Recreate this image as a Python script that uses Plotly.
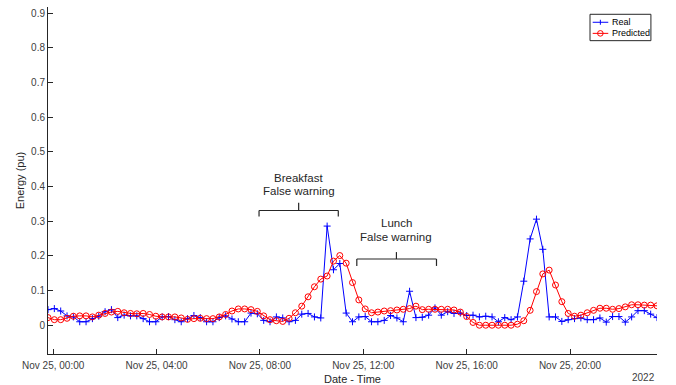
import pandas as pd
import plotly.graph_objects as go

# ---- data ----
t_start = "2022-11-24 23:48"
t_end = "2022-11-25 23:22"
n_points = 97

real = [0.045, 0.048, 0.041, 0.027, 0.024, 0.010, 0.010, 0.019, 0.026, 0.039,
        0.045, 0.022, 0.029, 0.027, 0.027, 0.019, 0.010, 0.010, 0.024, 0.025,
        0.016, 0.010, 0.019, 0.028, 0.022, 0.010, 0.010, 0.022, 0.027, 0.018,
        0.010, 0.010, 0.035, 0.033, 0.014, 0.010, 0.024, 0.021, 0.010, 0.014,
        0.032, 0.034, 0.024, 0.021, 0.286, 0.160, 0.178, 0.035, 0.010, 0.024,
        0.025, 0.010, 0.010, 0.014, 0.028, 0.021, 0.010, 0.098, 0.022, 0.023,
        0.029, 0.050, 0.029, 0.039, 0.034, 0.035, 0.028, 0.029, 0.024, 0.026,
        0.024, 0.010, 0.022, 0.016, 0.024, 0.127, 0.249, 0.306, 0.219, 0.024,
        0.024, 0.011, 0.016, 0.019, 0.021, 0.016, 0.016, 0.021, 0.009, 0.025,
        0.025, 0.009, 0.024, 0.042, 0.042, 0.032, 0.022]

predicted = [0.022, 0.016, 0.016, 0.020, 0.026, 0.027, 0.027, 0.024, 0.029, 0.034,
             0.038, 0.040, 0.036, 0.034, 0.033, 0.034, 0.031, 0.026, 0.024, 0.024,
             0.024, 0.021, 0.017, 0.019, 0.020, 0.019, 0.019, 0.024, 0.031, 0.041,
             0.047, 0.047, 0.045, 0.040, 0.027, 0.016, 0.013, 0.011, 0.020, 0.036,
             0.055, 0.082, 0.111, 0.133, 0.142, 0.185, 0.201, 0.179, 0.123, 0.073,
             0.047, 0.036, 0.038, 0.041, 0.042, 0.044, 0.046, 0.048, 0.055, 0.045,
             0.046, 0.046, 0.046, 0.046, 0.044, 0.038, 0.025, 0.008, 0.000, 0.000,
             0.000, 0.000, 0.000, 0.000, 0.003, 0.013, 0.043, 0.097, 0.148, 0.159,
             0.116, 0.068, 0.034, 0.026, 0.029, 0.036, 0.043, 0.049, 0.049, 0.046,
             0.048, 0.053, 0.059, 0.059, 0.058, 0.058, 0.056]

series_names = ["Real", "Predicted"]
series_colors = ["#0000ff", "#ff0000"]

tick_vals = ["2022-11-25 00:00", "2022-11-25 04:00", "2022-11-25 08:00",
             "2022-11-25 12:00", "2022-11-25 16:00", "2022-11-25 20:00"]

# annotation brackets: (start, end, centre, bar level, end level, tick top)
breakfast_bracket = ("2022-11-25 07:58", "2022-11-25 11:02", "2022-11-25 09:30", 0.331, 0.314, 0.353)
lunch_bracket = ("2022-11-25 11:45", "2022-11-25 14:50", "2022-11-25 13:17", 0.191, 0.171, 0.211)
breakfast_text = ["Breakfast", "False warning"]
lunch_text = ["Lunch", "False warning"]
breakfast_text_y = [0.426, 0.387]
lunch_text_y = [0.295, 0.255]

times = pd.date_range(t_start, t_end, periods=n_points)

FONT = "Liberation Sans, Arial, sans-serif"
DARK = "#262626"

fig = go.Figure()
fig.add_trace(go.Scatter(
    x=times, y=real, name=series_names[0], mode="lines+markers",
    line=dict(color=series_colors[0], width=1),
    marker=dict(symbol="cross-thin", size=5, color=series_colors[0],
                line=dict(color=series_colors[0], width=1)),
))
fig.add_trace(go.Scatter(
    x=times, y=predicted, name=series_names[1], mode="lines+markers",
    line=dict(color=series_colors[1], width=1),
    marker=dict(symbol="circle-open", size=6, color=series_colors[1],
                line=dict(color=series_colors[1], width=1)),
))

shapes = []
for (x0, x1, xc, ybar, yend, ytop) in (breakfast_bracket, lunch_bracket):
    style = dict(color=DARK, width=1.2)
    shapes.append(dict(type="line", xref="x", yref="y", x0=x0, x1=x1, y0=ybar, y1=ybar, line=style))
    shapes.append(dict(type="line", xref="x", yref="y", x0=x0, x1=x0, y0=ybar, y1=yend, line=style))
    shapes.append(dict(type="line", xref="x", yref="y", x0=x1, x1=x1, y0=ybar, y1=yend, line=style))
    shapes.append(dict(type="line", xref="x", yref="y", x0=xc, x1=xc, y0=ybar, y1=ytop, line=style))

annotations = []
for texts, ys, bracket in ((breakfast_text, breakfast_text_y, breakfast_bracket),
                           (lunch_text, lunch_text_y, lunch_bracket)):
    for txt, yv in zip(texts, ys):
        annotations.append(dict(x=bracket[2], y=yv, xref="x", yref="y", text=txt,
                                showarrow=False, xanchor="center", yanchor="middle",
                                font=dict(family=FONT, size=11.5, color=DARK)))
annotations.append(dict(x=1, y=-0.069, xref="paper", yref="paper", text="2022",
                        showarrow=False, xanchor="right", yanchor="middle",
                        font=dict(family=FONT, size=10, color="#404040")))

# ---- compact MATLAB-style legend box (paper coordinates) ----
leg_box = dict(x0=0.890, x1=0.990, y0=0.903, y1=0.979)
leg_line_x = (0.8944, 0.920)
leg_mark_x = 0.907
leg_text_x = 0.923
leg_rows_y = [0.956, 0.924]
shapes.append(dict(type="rect", xref="paper", yref="paper", **leg_box,
                   line=dict(color=DARK, width=1), fillcolor="white", layer="above"))
for name, color, ly in zip(series_names, series_colors, leg_rows_y):
    shapes.append(dict(type="line", xref="paper", yref="paper",
                       x0=leg_line_x[0], x1=leg_line_x[1], y0=ly, y1=ly,
                       line=dict(color=color, width=1), layer="above"))
    annotations.append(dict(x=leg_text_x, y=ly, xref="paper", yref="paper", text=name,
                            showarrow=False, xanchor="left", yanchor="middle",
                            font=dict(family=FONT, size=9, color="#000000")))
# legend marker glyphs
shapes.append(dict(type="line", xref="paper", yref="paper", xsizemode="pixel", ysizemode="pixel",
                   xanchor=leg_mark_x, yanchor=leg_rows_y[0], x0=0, x1=0, y0=-2.5, y1=2.5,
                   line=dict(color=series_colors[0], width=1), layer="above"))
shapes.append(dict(type="circle", xref="paper", yref="paper", xsizemode="pixel", ysizemode="pixel",
                   xanchor=leg_mark_x, yanchor=leg_rows_y[1], x0=-2.8, x1=2.8, y0=-2.8, y1=2.8,
                   line=dict(color=series_colors[1], width=1), fillcolor="rgba(0,0,0,0)", layer="above"))

fig.update_layout(
    width=676, height=385,
    margin=dict(l=48, r=19, t=7, b=31, autoexpand=False),
    paper_bgcolor="white", plot_bgcolor="white",
    font=dict(family=FONT, size=10, color="#404040"),
    shapes=shapes, annotations=annotations,
    showlegend=False,
)
fig.update_xaxes(
    type="date", range=[times[0], times[-1]],
    tickvals=tick_vals, tickformat="%b %d, %H:%M",
    ticks="inside", ticklen=5, tickcolor=DARK,
    showline=True, linecolor=DARK, linewidth=1, mirror=False,
    showgrid=False, zeroline=False, ticklabelstandoff=2, automargin=False,
    tickfont=dict(family=FONT, size=10, color="#404040"),
    title=dict(text="Date - Time", font=dict(family=FONT, size=11, color=DARK), standoff=8),
)
fig.update_yaxes(
    range=[-0.083, 0.918], tick0=0, dtick=0.1,
    ticks="inside", ticklen=5, tickcolor=DARK,
    showline=True, linecolor=DARK, linewidth=1, mirror=False,
    showgrid=False, zeroline=False, automargin=False,
    tickfont=dict(family=FONT, size=10, color="#404040"),
    title=dict(text="Energy (pu)", font=dict(family=FONT, size=11, color=DARK), standoff=4),
)

fig.write_html("out.html", config={"displayModeBar": False},
               post_script="document.body.style.margin='0px';")
